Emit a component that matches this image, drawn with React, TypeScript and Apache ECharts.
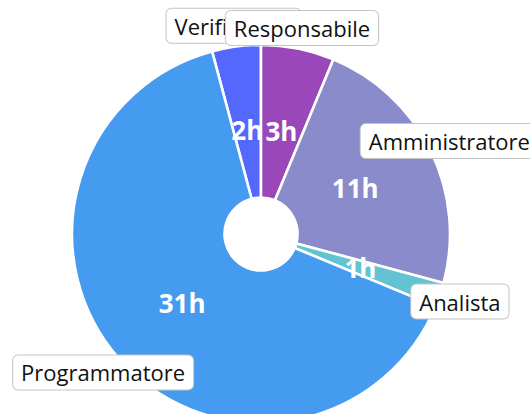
import React, { useEffect, useRef } from "react";
import * as echarts from "echarts";

const categories = ["Verificatore", "Responsabile", "Amministratore", "Analista", "Programmatore"];
const hours = [2, 3, 11, 1, 31];
const colors = ["#5468fd", "#9a48b9", "#8a8bcb", "#62c4d3", "#459bf0"];

export default function App() {
  const ref = useRef<HTMLDivElement>(null);
  useEffect(() => {
    document.body.style.margin = "0";
    const chart = echarts.init(ref.current!, null, { renderer: "svg" });
    const data = categories.map((name, i) => ({ name, value: hours[i] }));
    const center = [261, 234];
    const base = {
      type: "pie" as const,
      center,
      startAngle: 105,
      clockwise: true,
      avoidLabelOverlap: false,
      emphasis: { disabled: true },
      labelLine: { show: false },
      labelLayout: { hideOverlap: false },
    };
    chart.setOption({
      animation: false,
      series: [
        {
          ...base,
          radius: [36.5, 189],
          silent: true,
          data: data.map((d, i) => ({ ...d, itemStyle: { color: colors[i] } })),
          itemStyle: { borderColor: "#ffffff", borderWidth: 2.6 },
          label: { show: false },
        },
        {
          ...base,
          radius: [15, 189],
          silent: true,
          data,
          itemStyle: { color: "transparent", borderWidth: 0 },
          label: {
            show: true,
            position: "inside",
            formatter: "{c}h",
            color: "#ffffff",
            fontFamily: "Open Sans",
            fontWeight: "bold",
            fontSize: 26,
          },
        },
        {
          ...base,
          radius: [189, 225],
          silent: true,
          data,
          itemStyle: { color: "transparent", borderWidth: 0 },
          label: {
            show: true,
            position: "inside",
            formatter: "{b}",
            color: "#111111",
            fontFamily: "Open Sans",
            fontSize: 22,
            lineHeight: 26,
            backgroundColor: "#ffffff",
            borderColor: "#c4c4c4",
            borderWidth: 1,
            borderRadius: 5,
            padding: [4, 8],
          },
        },
      ],
    });
    return () => chart.dispose();
  }, []);
  return <div ref={ref} style={{ width: 530, height: 414 }} />;
}
